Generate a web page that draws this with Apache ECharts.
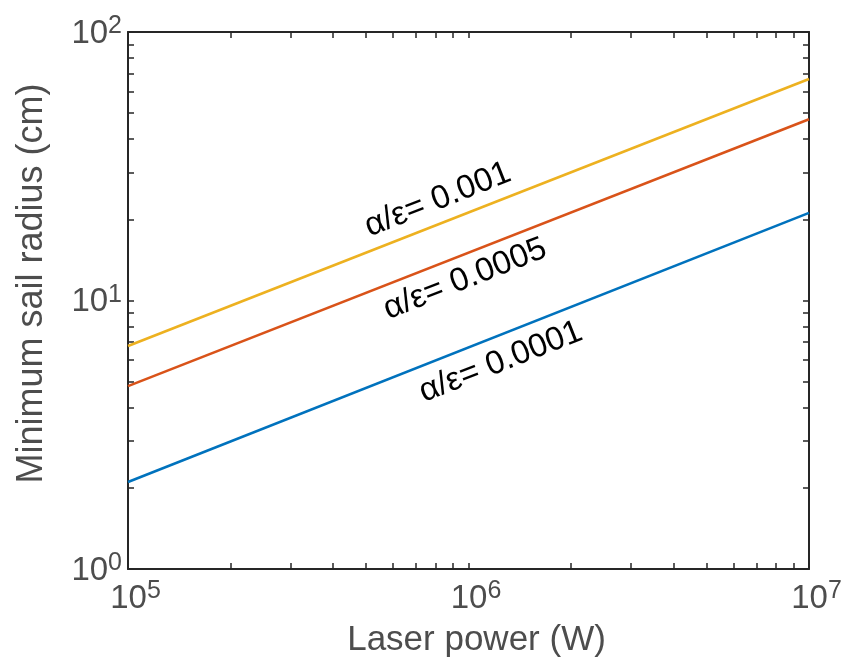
<!DOCTYPE html>
<html>
<head>
<meta charset="utf-8">
<script src="https://cdn.jsdelivr.net/npm/echarts@6/dist/echarts.min.js"></script>
<style>html,body{margin:0;padding:0;background:#fff}#c{width:848px;height:670px}</style>
</head>
<body>
<div id="c"></div>
<script>
// Data
const laserPowerW = [1e5, 1e7];
const radiusAE0001 = [2.11, 21.2];   // α/ε = 0.0001
const radiusAE0005 = [4.80, 47.3];   // α/ε = 0.0005
const radiusAE001  = [6.77, 66.8];   // α/ε = 0.001
const seriesNames = ['α/ε= 0.0001', 'α/ε= 0.0005', 'α/ε= 0.001'];
const xMajorTicks = [1e5, 1e6, 1e7];
const yMajorTicks = [1, 10, 100];
const xAllTicks = [1e5,2e5,3e5,4e5,5e5,6e5,7e5,8e5,9e5,1e6,2e6,3e6,4e6,5e6,6e6,7e6,8e6,9e6,1e7];
const yAllTicks = [1,2,3,4,5,6,7,8,9,10,20,30,40,50,60,70,80,90,100];

const FONT = 'Liberation Sans, Arial, Helvetica, sans-serif';
const AXC = '#262626';
const LBL = '#4d4d4d';

function supFmt(v){ return '{b|10}{s|' + Math.round(Math.log10(v)) + '}'; }
function supFmtX(v){ return '{p|}{b|10}{s|' + Math.round(Math.log10(v)) + '}'; }
const richLab = {
  p: {width: 15, fontSize: 33, fontFamily: FONT},
  b: {fontSize: 33, fontFamily: FONT, color: LBL, lineHeight: 36, verticalAlign: 'bottom'},
  s: {fontSize: 25, fontFamily: FONT, color: LBL, verticalAlign: 'top', lineHeight: 36, padding: [0,0,10,0]}
};

function mkAxis(type, pos, show, allTicks, majorTicks, fmt, extra){
  return Object.assign({
    type: 'log', logBase: 10, position: pos,
    min: type === 'x' ? 1e5 : 1, max: type === 'x' ? 1e7 : 100,
    axisLine: {show: true, onZero: false, lineStyle: {color: AXC, width: 2}},
    axisTick: {show: true, inside: true, length: 6, customValues: allTicks, lineStyle: {color: AXC, width: 1.5}},
    splitLine: {show: false},
    minorTick: {show: false},
    axisLabel: {show: show, customValues: majorTicks, formatter: fmt, rich: richLab, margin: type === 'x' ? 10 : 6}
  }, extra || {});
}

const chart = echarts.init(document.getElementById('c'), null, {renderer: 'canvas'});
const lineColors = ['#0072BD', '#D95319', '#EDB120'];
const seriesData = [radiusAE0001, radiusAE0005, radiusAE001];
const labelAt = [[1.245e6, 5.9], [9.77e5, 12.0], [8.13e5, 23.7]];

chart.setOption({
  animation: false,
  backgroundColor: '#fff',
  grid: {left: 128, top: 32, right: 39, bottom: 101, containLabel: false},
  xAxis: [
    mkAxis('x', 'bottom', true, xAllTicks, xMajorTicks, supFmtX, {
      name: 'Laser power (W)', nameLocation: 'middle', nameGap: 54,
      nameTextStyle: {fontSize: 35, fontFamily: FONT, color: LBL, padding: [0,0,0,16]}
    }),
    mkAxis('x', 'top', false, xAllTicks, xMajorTicks, supFmtX)
  ],
  yAxis: [
    mkAxis('y', 'left', true, yAllTicks, yMajorTicks, supFmt, {
      name: 'Minimum sail radius (cm)', nameLocation: 'middle', nameGap: 78,
      nameTextStyle: {fontSize: 36, fontFamily: FONT, color: LBL, padding: [0,0,0,34]}
    }),
    mkAxis('y', 'right', false, yAllTicks, yMajorTicks, supFmt)
  ],
  series: seriesData.map((vals, i) => ({
    type: 'line', name: seriesNames[i],
    data: laserPowerW.map((x, j) => [x, vals[j]]),
    showSymbol: false, symbol: 'none',
    lineStyle: {color: lineColors[i], width: 2.6},
    z: 3,
    markPoint: {
      symbol: 'circle', symbolSize: 1,
      itemStyle: {color: 'rgba(0,0,0,0)'},
      label: {show: true, position: 'inside', formatter: seriesNames[i], rotate: 21.5,
              fontSize: 33, fontFamily: FONT, color: '#000'},
      data: [{coord: labelAt[i]}]
    }
  }))
});
</script>
</body>
</html>
